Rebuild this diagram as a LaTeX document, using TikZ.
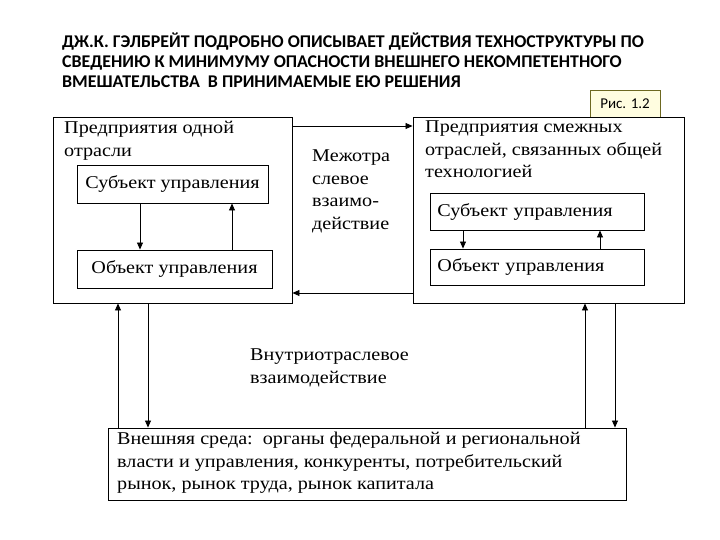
\documentclass[tikz,border=0pt]{standalone}
\usepackage{fontspec}
\setmainfont[FakeStretch=1.12]{Liberation Serif}
\newfontfamily\titlefont{Carlito}
\usetikzlibrary{arrows.meta}
\tikzset{
  bx/.style={draw, line width=0.9pt, inner sep=0pt},
  lbl/.style={anchor=north west, align=left, font=\fontsize{18}{22.5}\selectfont, inner sep=0pt},
  ar/.style={-{Triangle[length=7pt,width=6pt]}, line width=0.8pt},
}
\begin{document}
\begin{tikzpicture}[x=1pt,y=-1pt]
\useasboundingbox (0,0) rectangle (720,540);
\node[anchor=north west, align=left, inner sep=0pt, font=\titlefont\bfseries\fontsize{17.9}{20}\selectfont] (title) at (62,33)
 {ДЖ.К. ГЭЛБРЕЙТ ПОДРОБНО ОПИСЫВАЕТ ДЕЙСТВИЯ ТЕХНОСТРУКТУРЫ ПО\\СВЕДЕНИЮ К МИНИМУМУ ОПАСНОСТИ ВНЕШНЕГО НЕКОМПЕТЕНТНОГО\\ВМЕШАТЕЛЬСТВА\ \ В ПРИНИМАЕМЫЕ ЕЮ РЕШЕНИЯ};
\node[draw=olive!70!black, fill=yellow!12, minimum width=70pt, minimum height=27pt, inner sep=0pt, font=\titlefont\fontsize{15}{16}\selectfont] (fig) at (625,104) {Рис. 1.2};
% big boxes
\node[bx, minimum width=239pt, minimum height=186pt] (L) at (172.5,210) {};
\node[bx, minimum width=271pt, minimum height=186pt] (R) at (548.5,210) {};
\node[lbl] (Lt) at (64,121) {Предприятия одной\\отрасли};
\node[lbl] (Rt) at (425,121) {Предприятия смежных\\отраслей, связанных общей\\технологией};
% inner boxes
\node[bx, minimum width=191pt, minimum height=38pt, font=\fontsize{18}{22}\selectfont] (Ls) at (172.5,184) {Субъект управления};
\node[bx, minimum width=195pt, minimum height=38pt, font=\fontsize{18}{22}\selectfont] (Lo) at (174.5,269) {Объект управления};
\node[bx, minimum width=214pt, minimum height=37pt, anchor=west, font=\fontsize{18}{22}\selectfont, text width=200pt, align=left] (Rs) at (430,211.5) {Субъект управления};
\node[bx, minimum width=214pt, minimum height=36pt, anchor=west, font=\fontsize{18}{22}\selectfont, text width=200pt, align=left] (Ro) at (430,267) {Объект управления};
% middle labels
\node[lbl] (mid) at (312,150) {Межотра\\слевое\\взаимо-\\действие};
\node[lbl] (intra) at (250,349) {Внутриотраслевое\\взаимодействие};
% bottom box
\node[bx, minimum width=518pt, minimum height=72pt] (B) at (367,464) {};
\node[lbl] (Bt) at (117,432) {Внешняя среда:\ \ органы федеральной и региональной\\власти и управления, конкуренты, потребительский\\рынок, рынок труда, рынок капитала};
% horizontal arrows
\draw[ar] (L.east |- 0,126) -- (R.west |- 0,126);
\draw[ar] (R.west |- 0,293) -- (L.east |- 0,293);
% inner arrows
\draw[ar] (Ls.south -| 140,0) -- (Lo.north -| 140,0);
\draw[ar] (Lo.north -| 232,0) -- (Ls.south -| 232,0);
\draw[ar] (Rs.south -| 463,0) -- (Ro.north -| 463,0);
\draw[ar] (Ro.north -| 600,0) -- (Rs.south -| 600,0);
% vertical arrows
\draw[ar] (B.north -| 118,0) -- (L.south -| 118,0);
\draw[ar] (L.south -| 148,0) -- (B.north -| 148,0);
\draw[ar] (B.north -| 585,0) -- (R.south -| 585,0);
\draw[ar] (R.south -| 615,0) -- (B.north -| 615,0);
\end{tikzpicture}
\end{document}
